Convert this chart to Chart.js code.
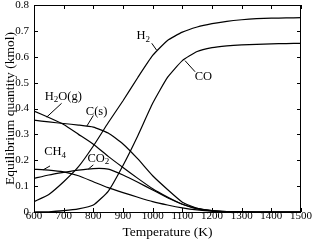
<!DOCTYPE html>
<html>
<head>
<meta charset="utf-8">
<script src="https://cdn.jsdelivr.net/npm/chart.js@4.4.1/dist/chart.umd.min.js"></script>
<style>
  html, body { margin: 0; padding: 0; background: #fff; }
  #wrap { width: 313px; height: 243px; }
</style>
</head>
<body>
<div id="wrap"><canvas id="eqChart" width="313" height="243"></canvas></div>
<script>
// temperature (K) and equilibrium quantities (kmol)
var temps = [600, 650, 700, 750, 800, 850, 900, 950, 1000, 1050, 1100, 1150, 1200, 1250, 1300, 1350, 1400, 1450, 1500];
var h2   = [0.040, 0.068, 0.117, 0.175, 0.255, 0.345, 0.430, 0.520, 0.605, 0.663, 0.695, 0.715, 0.728, 0.737, 0.743, 0.747, 0.749, 0.750, 0.751];
var co   = [0.000, 0.001, 0.005, 0.012, 0.027, 0.080, 0.180, 0.295, 0.420, 0.520, 0.585, 0.620, 0.635, 0.642, 0.646, 0.648, 0.650, 0.651, 0.652];
var h2o  = [0.390, 0.365, 0.338, 0.300, 0.262, 0.215, 0.172, 0.130, 0.090, 0.058, 0.030, 0.014, 0.005, 0.002, 0.001, 0.000, 0.000, 0.000, 0.000];
var cs   = [0.355, 0.348, 0.342, 0.336, 0.328, 0.305, 0.263, 0.205, 0.140, 0.087, 0.038, 0.014, 0.005, 0.002, 0.001, 0.000, 0.000, 0.000, 0.000];
var co2  = [0.130, 0.143, 0.153, 0.162, 0.168, 0.166, 0.143, 0.115, 0.085, 0.055, 0.030, 0.012, 0.004, 0.001, 0.000, 0.000, 0.000, 0.000, 0.000];
var ch4  = [0.165, 0.162, 0.155, 0.140, 0.117, 0.094, 0.075, 0.057, 0.040, 0.027, 0.016, 0.008, 0.003, 0.001, 0.000, 0.000, 0.000, 0.000, 0.000];

var xTickLabels = ['600', '700', '800', '900', '1000', '1100', '1200', '1300', '1400', '1500'];
var yTickLabels = ['0', '0.1', '0.2', '0.3', '0.4', '0.5', '0.6', '0.7', '0.8'];

var serif = "'Liberation Serif', 'DejaVu Serif', serif";

function pts(ys) {
  return temps.map(function (t, i) { return { x: t, y: ys[i] }; });
}

function line(label, ys) {
  return {
    label: label,
    data: pts(ys),
    borderColor: '#000',
    borderWidth: 1.2,
    pointRadius: 0,
    fill: false,
    tension: 0.15
  };
}

// curve labels: text pieces [string, isSubscript], centre and leader line in data units
var curveLabels = [
  { parts: [['H', 0], ['2', 1]],            x: 968,  y: 0.680, lead: [[997, 0.652], [1013, 0.626]] },
  { parts: [['CO', 0]],                      x: 1171, y: 0.523, lead: [[1143, 0.542], [1109, 0.585]] },
  { parts: [['H', 0], ['2', 1], ['O(g)', 0]], x: 699,  y: 0.446, lead: [[693, 0.420], [643, 0.367]] },
  { parts: [['C(s)', 0]],                    x: 811,  y: 0.388, lead: [[800, 0.373], [778, 0.332]] },
  { parts: [['CH', 0], ['4', 1]],            x: 671,  y: 0.233, lead: [[654, 0.178], [631, 0.163]] },
  { parts: [['CO', 0], ['2', 1]],            x: 817,  y: 0.207, lead: [[800, 0.182], [783, 0.166]] }
];

var frameAndLabels = {
  id: 'frameAndLabels',
  afterDatasetsDraw: function (chart) {
    var ctx = chart.ctx, a = chart.chartArea;
    var xs = chart.scales.x, ys = chart.scales.y;
    ctx.save();
    ctx.strokeStyle = '#000';
    ctx.lineWidth = 1;
    ctx.strokeRect(a.left + 0.5, a.top + 0.5, a.right - a.left - 1, a.bottom - a.top);
    // inward ticks on all four sides
    ctx.beginPath();
    xs.ticks.forEach(function (t) {
      var px = Math.round(xs.getPixelForValue(t.value)) + 0.5;
      ctx.moveTo(px, a.bottom); ctx.lineTo(px, a.bottom - 4);
      ctx.moveTo(px, a.top); ctx.lineTo(px, a.top + 4);
    });
    ys.ticks.forEach(function (t) {
      var py = Math.round(ys.getPixelForValue(t.value)) + 0.5;
      ctx.moveTo(a.left, py); ctx.lineTo(a.left + 4, py);
      ctx.moveTo(a.right, py); ctx.lineTo(a.right - 4, py);
    });
    ctx.stroke();

    // curve labels with leader lines
    ctx.lineWidth = 1;
    ctx.fillStyle = '#000';
    ctx.textBaseline = 'middle';
    curveLabels.forEach(function (l) {
      ctx.beginPath();
      ctx.moveTo(xs.getPixelForValue(l.lead[0][0]), ys.getPixelForValue(l.lead[0][1]));
      ctx.lineTo(xs.getPixelForValue(l.lead[1][0]), ys.getPixelForValue(l.lead[1][1]));
      ctx.stroke();

      var big = '12.5px ' + serif, small = '9px ' + serif;
      var w = 0;
      l.parts.forEach(function (p) {
        ctx.font = p[1] ? small : big;
        w += ctx.measureText(p[0]).width;
      });
      var cx = xs.getPixelForValue(l.x) - w / 2;
      var cy = ys.getPixelForValue(l.y);
      ctx.textAlign = 'left';
      l.parts.forEach(function (p) {
        ctx.font = p[1] ? small : big;
        ctx.fillText(p[0], cx, p[1] ? cy + 3.5 : cy);
        cx += ctx.measureText(p[0]).width;
      });
    });
    ctx.restore();
  }
};

new Chart(document.getElementById('eqChart'), {
  type: 'line',
  data: {
    datasets: [
      line('H2', h2),
      line('CO', co),
      line('H2O(g)', h2o),
      line('C(s)', cs),
      line('CO2', co2),
      line('CH4', ch4)
    ]
  },
  options: {
    responsive: false,
    animation: false,
    devicePixelRatio: 1,
    layout: { padding: { top: 5, right: 12, left: 0, bottom: 0 } },
    plugins: {
      legend: { display: false },
      tooltip: { enabled: false }
    },
    scales: {
      x: {
        type: 'linear',
        min: 600,
        max: 1500,
        grid: { display: false, drawTicks: false },
        border: { display: false },
        ticks: {
          stepSize: 100,
          padding: -2,
          maxRotation: 0,
          color: '#000',
          font: { family: serif, size: 11 },
          callback: function (v, i) { return xTickLabels[i]; }
        },
        title: {
          display: true,
          text: 'Temperature (K)',
          color: '#000',
          font: { family: serif, size: 13.5 },
          padding: { top: 0, bottom: 2 }
        },
        afterFit: function (s) { s.height = 31; s.paddingLeft = 0; s.paddingRight = 0; }
      },
      y: {
        min: 0,
        max: 0.8,
        grid: { display: false, drawTicks: false },
        border: { display: false },
        ticks: {
          stepSize: 0.1,
          padding: 5,
          color: '#000',
          font: { family: serif, size: 11 },
          callback: function (v, i) { return yTickLabels[i]; }
        },
        title: {
          display: true,
          text: 'Equilibrium quantity (kmol)',
          color: '#000',
          font: { family: serif, size: 13.5 },
          padding: { top: 2, bottom: 0 }
        },
        afterFit: function (s) { s.width = 34; s.paddingTop = 0; s.paddingBottom = 0; }
      }
    }
  },
  plugins: [frameAndLabels]
});
</script>
</body>
</html>
